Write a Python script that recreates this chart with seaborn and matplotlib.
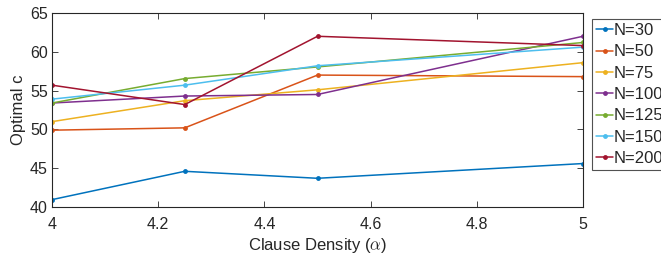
import matplotlib
matplotlib.use("Agg")
import matplotlib.pyplot as plt
import seaborn as sns
import pandas as pd

# clause density values (x axis)
alpha = [4.0, 4.25, 4.5, 5.0]

# optimal c for each problem size N
n30 = [40.95, 44.6, 43.7, 45.6]
n50 = [49.9, 50.2, 57.0, 56.8]
n75 = [51.0, 53.7, 55.1, 58.6]
n100 = [53.4, 54.3, 54.5, 62.0]
n125 = [53.4, 56.55, 58.05, 61.2]
n150 = [53.9, 55.7, 58.2, 60.6]
n200 = [55.7, 53.2, 62.0, 60.8]

labels = ["N=30", "N=50", "N=75", "N=100", "N=125", "N=150", "N=200"]
series = [n30, n50, n75, n100, n125, n150, n200]
colors = ["#0072BD", "#D95319", "#EDB120", "#7E2F8E", "#77AC30", "#4DBEEE", "#A2142F"]

rows = []
for lab, vals in zip(labels, series):
    for a, v in zip(alpha, vals):
        rows.append({"alpha": a, "c": v, "N": lab})
df = pd.DataFrame(rows)

sns.set_style("ticks")
plt.rcParams["font.family"] = ["Liberation Sans", "DejaVu Sans"]
plt.rcParams["mathtext.fontset"] = "cm"

fig = plt.figure(figsize=(6.61, 2.58), dpi=100)
ax = fig.add_axes([52 / 661, 1 - 207 / 258, 531 / 661, 194 / 258])

sns.lineplot(data=df, x="alpha", y="c", hue="N", hue_order=labels,
             palette=colors, marker="o", markersize=3.5, markeredgewidth=0,
             linewidth=1.1, ax=ax, legend=True)

ax.set_xlim(4, 5)
ax.set_ylim(40, 65)
ax.set_xticks([4, 4.2, 4.4, 4.6, 4.8, 5])
ax.set_xticklabels(["4", "4.2", "4.4", "4.6", "4.8", "5"])
ax.set_yticks([40, 45, 50, 55, 60, 65])
ax.tick_params(direction="in", top=True, right=True, labelsize=11.5,
               colors="#262626", length=4, width=0.6)
ax.tick_params(axis="x", pad=7)
ax.tick_params(axis="y", pad=3)
for s in ax.spines.values():
    s.set_linewidth(0.8)
    s.set_color("#262626")
ax.set_xlabel(r"Clause Density ($\alpha$)", fontsize=12, color="#262626", labelpad=3)
ax.set_ylabel("Optimal c", fontsize=12, color="#262626", labelpad=3)

handles, labs = ax.get_legend_handles_labels()
ax.legend(handles, labs, loc="upper left",
          bbox_to_anchor=(592 / 661, 1 - 19 / 258), bbox_transform=fig.transFigure,
          fontsize=12, frameon=True, fancybox=False, edgecolor="#262626",
          handlelength=1.0, handletextpad=0.05, borderpad=0.25, labelspacing=0.38,
          borderaxespad=0)
ax.get_legend().get_frame().set_linewidth(0.8)

fig.savefig("out.png", dpi=100)
